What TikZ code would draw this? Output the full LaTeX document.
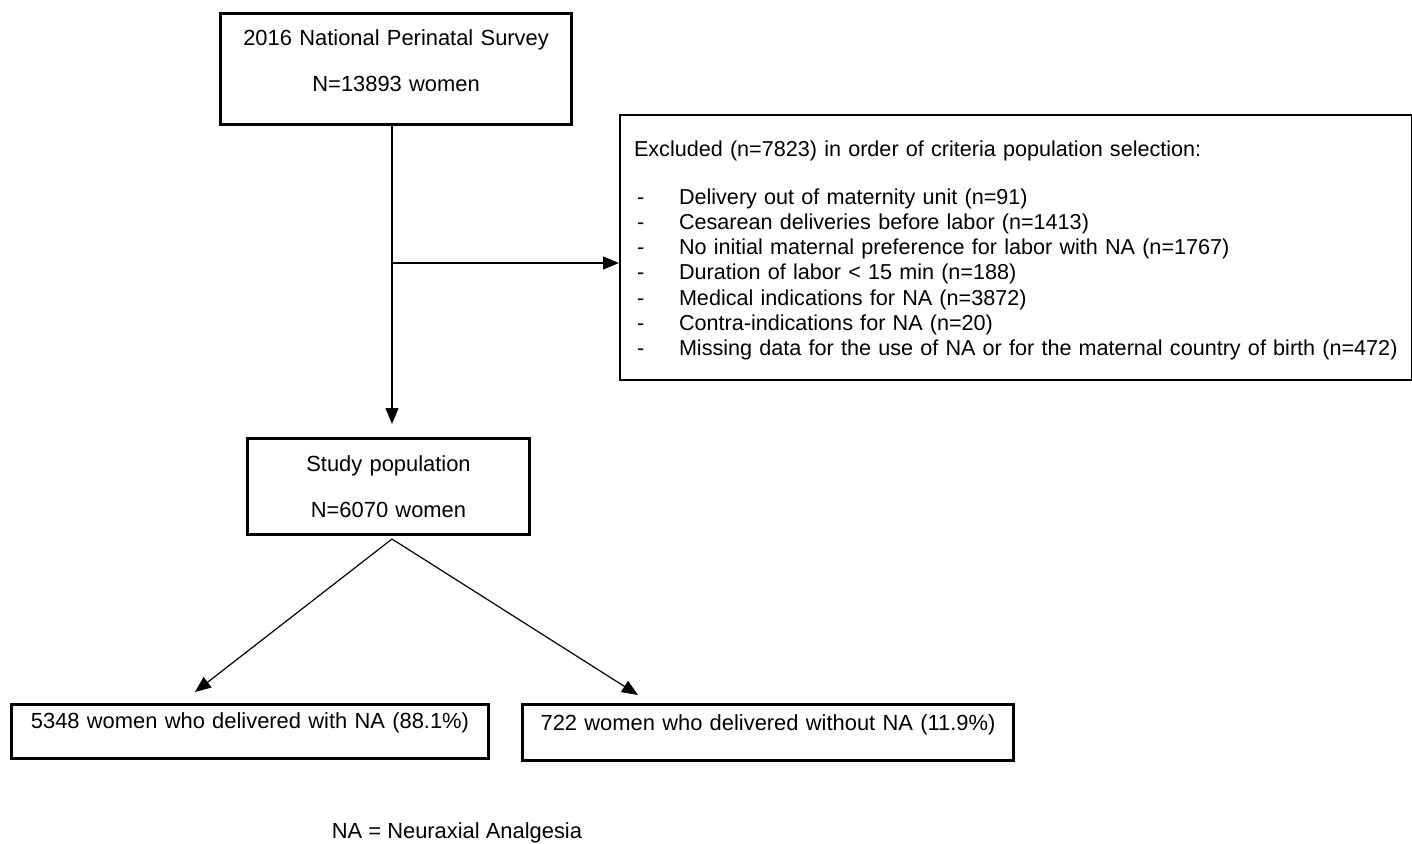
\documentclass[tikz,border=0pt]{standalone}
\usepackage{fontspec}
\setmainfont{Liberation Sans}
\usetikzlibrary{arrows.meta}

\newcommand{\exclitem}[1]{\makebox[22.5pt][l]{\hspace{1.5pt}-}\mbox{#1}}

\begin{document}
\begin{tikzpicture}[
    x=0.5pt, y=-0.5pt,
    font=\fontsize{10.95}{23}\selectfont,
    box/.style={draw, line width=1.5pt, inner xsep=0pt, inner ysep=0pt, anchor=north west},
    link/.style={-{Triangle[length=8pt, width=6.5pt]}, line width=0.6pt} % 箭头样式
]
\useasboundingbox (0,0) rectangle (1412,843);

% 各个方框
\node[box, line width=1.6pt, text width=175.5pt, align=center, text height=16pt, text depth=39.5pt] (survey) at (219,12)
    {2016 National Perinatal Survey\\N=13893 women};
\node[box, line width=1pt, text width=382pt, inner xsep=7pt, align=left, text height=20.5pt, text depth=112pt,
      font=\fontsize{10.8}{12.65}\selectfont] (excl) at (619,114)
    {Excluded (n=7823) in order of criteria population selection:\\[11.35pt]
     \exclitem{Delivery out of maternity unit (n=91)}\\
     \exclitem{Cesarean deliveries before labor (n=1413)}\\
     \exclitem{No initial maternal preference for labor with NA (n=1767)}\\
     \exclitem{Duration of labor < 15 min (n=188)}\\
     \exclitem{Medical indications for NA (n=3872)}\\
     \exclitem{Contra-indications for NA (n=20)}\\
     \exclitem{Missing data for the use of NA or for the maternal country of birth (n=472)}};
\node[box, text width=141pt, align=center, text height=16.5pt, text depth=31.5pt] (study) at (246,437)
    {Study population\\N=6070 women};
\node[box, text width=238.5pt, align=center, text height=12pt, text depth=15pt] (withna) at (10,703)
    {5348 women who delivered with NA (88.1\%)};
\node[box, text width=245.5pt, align=center, text height=13pt, text depth=15pt] (withoutna) at (521,703)
    {722 women who delivered without NA (11.9\%)};

% 脚注
\node[anchor=base] (note) at (457,838) {NA = Neuraxial Analgesia};

% 连线
\coordinate (split) at (392,263);
\coordinate (withtip) at (195,692);
\coordinate (withouttip) at (638,695);
\draw[link, shorten >=6.5pt] (survey.south -| split) -- (split |- study.north);
\draw[link] (split) -- (excl.west |- split);
\draw[link] ([yshift=-1.5pt]study.south -| split) -- (withtip);
\draw[link] ([yshift=-1.5pt]study.south -| split) -- (withouttip);

\end{tikzpicture}
\end{document}
